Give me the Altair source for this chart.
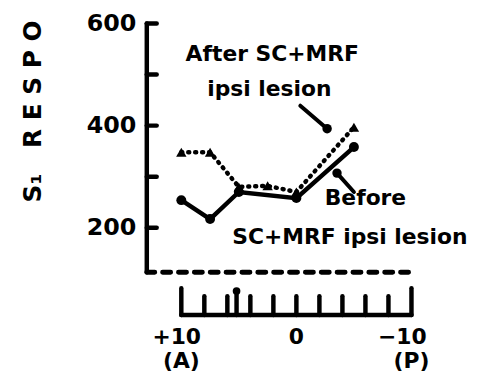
import altair as alt
import pandas as pd

# ---- data ----
before_x = [10, 7.5, 5, 0, -5]
before_y = [254, 217, 270, 258, 358]
after_x = [10, 7.5, 5, 2.5, 0, -5]
after_y = [348, 348, 280, 282, 270, 397]

y_tick_values = [200, 300, 400, 500, 600]
y_label_values = [200, 400, 600]
x_tick_values = [10, 8, 6, 4, 2, 0, -2, -4, -6, -8, -10]
x_label_values = [10.4, 0, -9.2]
x_label_texts = ["+10", "0", "\u221210"]
x_sub_values = [10, -10]
x_sub_texts = ["(A)", "(P)"]

note_x = [2.1, 2.35, -6.0, -4.65]
note_y = [540, 472, 258, 181]
note_text = ["After SC+MRF", "ipsi lesion", "Before", "SC+MRF ipsi lesion"]

arrow_x1 = [-0.34, -5.0]
arrow_y1 = [439, 270]
arrow_x2 = [-2.67, -3.53]
arrow_y2 = [394, 307]

FONT = "DejaVu Sans"
NB = "\u00a0"
xs = alt.Scale(domain=[13, -15], nice=False, zero=False)
ys = alt.Scale(domain=[-102.9, 627.2], nice=False, zero=False)
yaxis = alt.Axis(values=y_label_values, ticks=False, domain=False, grid=False,
                 labelPadding=11, labelFont=FONT, labelFontSize=24,
                 labelFontWeight="bold", labelColor="black",
                 title="S\u2081" + NB * 3 + NB.join("RESPO"), titleAngle=270, titleX=-115, titleY=194,
                 titleAlign="left", titleBaseline="middle", titleFont=FONT,
                 titleFontSize=25, titleFontWeight="bold", titleColor="black")


def X(f):
    return alt.X(f, type="quantitative", scale=xs, axis=None)


def Y(f):
    return alt.Y(f, type="quantitative", scale=ys, axis=yaxis)


before = pd.DataFrame({"x": before_x, "y": before_y})
after = pd.DataFrame({"x": after_x, "y": after_y})

# axis frame segments
y_left = 13
tick_end = 12.14
axis_base = 113
seg = [(y_left, axis_base, y_left, 600)]
seg += [(y_left, v, tick_end, v) for v in y_tick_values]
seg += [(10, 29, -10, 29)]
seg += [(t, 29, t, 81.5 if abs(t) == 10 else 66) for t in x_tick_values]
seg += [(5.2, 29, 5.2, 76)]
segs = pd.DataFrame(seg, columns=["x1", "y1", "x2", "y2"])

frame = alt.Chart(segs).mark_rule(color="black", strokeWidth=4.5, strokeCap="round").encode(
    x=X("x1"), y=Y("y1"), x2="x2", y2="y2")

dotted_base = alt.Chart(pd.DataFrame({"x1": [y_left], "x2": [-10.3], "y1": [axis_base]})).mark_rule(
    color="black", strokeWidth=5, strokeCap="round", strokeDash=[8, 8]).encode(
    x=X("x1"), x2="x2", y=Y("y1"))

marker_dot = alt.Chart(pd.DataFrame({"x": [5.2], "y": [76]})).mark_point(
    filled=True, color="black", size=60, opacity=1).encode(x=X("x"), y=Y("y"))

arrows = pd.DataFrame({"x1": arrow_x1, "y1": arrow_y1, "x2": arrow_x2, "y2": arrow_y2})
arrow_lines = alt.Chart(arrows).mark_rule(color="black", strokeWidth=4, strokeCap="round").encode(
    x=X("x1"), y=Y("y1"), x2="x2", y2="y2")
arrow_heads = alt.Chart(arrows).mark_point(filled=True, color="black", size=90, opacity=1).encode(
    x=X("x2"), y=Y("y2"))

before_line = alt.Chart(before).mark_line(color="black", strokeWidth=4.5).encode(x=X("x"), y=Y("y"))
before_pts = alt.Chart(before).mark_point(filled=True, color="black", size=100, opacity=1).encode(
    x=X("x"), y=Y("y"))
after_line = alt.Chart(after).mark_line(color="black", strokeWidth=4.5, strokeDash=[1, 6],
                                        strokeCap="round").encode(x=X("x"), y=Y("y"))
after_pts = alt.Chart(after).mark_point(filled=True, color="black", shape="triangle-up",
                                        size=110, opacity=1).encode(x=X("x"), y=Y("y"))

txt = dict(font=FONT, fontSize=22, fontWeight="bold", color="black")
notes = alt.Chart(pd.DataFrame({"x": note_x, "y": note_y, "t": note_text})).mark_text(**txt).encode(
    x=X("x"), y=Y("y"), text="t:N")

xlab = alt.Chart(pd.DataFrame({"x": x_label_values, "y": [-13.6] * 3, "t": x_label_texts})).mark_text(
    **txt).encode(x=X("x"), y=Y("y"), text="t:N")
xsub = alt.Chart(pd.DataFrame({"x": x_sub_values, "y": [-62] * 2, "t": x_sub_texts})).mark_text(
    **txt).encode(x=X("x"), y=Y("y"), text="t:N")

chart = alt.layer(
    frame, dotted_base, marker_dot, arrow_lines, arrow_heads,
    after_line, after_pts, before_line, before_pts, notes, xlab, xsub
).properties(
    width=325, height=376,
    autosize=alt.AutoSizeParams(type="none"),
    padding={"left": 140, "top": 0, "right": 0, "bottom": 0},
    background="white",
).configure_view(stroke=None)

chart.save("out.html", embed_options={"renderer": "svg", "actions": False})
